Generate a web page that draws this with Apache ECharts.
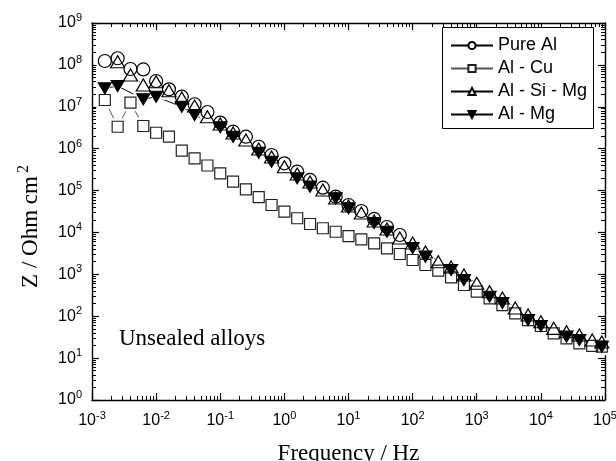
<!DOCTYPE html>
<html><head><meta charset="utf-8">
<script src="https://cdn.jsdelivr.net/npm/echarts@6/dist/echarts.min.js"></script>
<style>html,body{margin:0;padding:0;background:#fff}#c{width:616px;height:461px}</style>
</head><body><div id="c"></div>
<script>
// Frequencies (Hz), 5 points per decade
const freq = [0.001585, 0.002512, 0.003981, 0.00631, 0.01, 0.01585, 0.02512, 0.03981, 0.0631, 0.1,
  0.1585, 0.2512, 0.3981, 0.631, 1, 1.585, 2.512, 3.981, 6.31, 10,
  15.85, 25.12, 39.81, 63.1, 100, 158.5, 251.2, 398.1, 631, 1000,
  1585, 2512, 3981, 6310, 10000, 15850, 25120, 39810, 63100, 89100];

const seriesNames = ['Pure Al', 'Al - Cu', 'Al - Si - Mg', 'Al - Mg'];

const pureAl = [1.24e8, 1.44e8, 7.97e7, 7.8e7, 4.12e7, 2.61e7, 1.74e7, 1.15e7, 7.5e6, 4.2e6,
  2.54e6, 1.93e6, 1.11e6, 7.06e5, 4.47e5, 2.82e5, 1.79e5, 1.17e5, 7.13e4, 4.52e4,
  3.25e4, 2.1e4, 1.35e4, 8.7e3, null, null, null, null, null, null,
  null, null, null, null, null, null, null, null, null, null];

const alCu = [1.45e7, 3.34e6, 1.25e7, 3.48e6, 2.4e6, 1.93e6, 8.94e5, 5.89e5, 3.96e5, 2.58e5,
  1.63e5, 1.07e5, 7.0e4, 4.52e4, 3.13e4, 2.18e4, 1.59e4, 1.26e4, 1.04e4, 8.2e3,
  6.86e3, 5.5e3, 4.18e3, 3.06e3, 2.2e3, 1.67e3, 1.22e3, 849, 556, 385,
  268, 185, 117, 81, 58.4, 39.1, 29.7, 22.6, 19.5, 18.7];

const alSiMg = [null, 1.19e8, 5.73e7, 3.31e7, 3.96e7, 2.42e7, 1.62e7, 1.04e7, 5.8e6, 3.88e6,
  2.37e6, 1.61e6, 9.8e5, 6.32e5, 3.71e5, 2.48e5, 1.6e5, 1.03e5, 6.64e4, 4.28e4,
  2.91e4, 1.88e4, 1.21e4, 7.37e3, 5.6e3, 3.41e3, 2.0e3, 1.5e3, 964, 611,
  385, 272, 157, 107, 74, 51.4, 42.7, 35.6, 27.1, 24.2];

const alMg = [2.76e7, 3.13e7, null, 1.51e7, 1.74e7, null, 1.0e7, 6.36e6, null, 3.24e6,
  1.93e6, null, 8.0e5, 4.88e5, null, 1.96e5, 1.24e5, null, 6.53e4, 3.77e4,
  null, 1.68e4, 1.04e4, null, 4.25e3, 2.64e3, null, 1.27e3, 732, null,
  292, 207, null, 81.2, 58.4, null, 32.5, 27.1, null, 18.7];

const annotation = 'Unsealed alloys';
const xTitle = 'Frequency / Hz';
const yTitle = 'Z / Ohm cm';

const allData = [pureAl, alCu, alSiMg, alMg];
const looks = [
  {symbol: 'circle', size: 13, mask: 19, rotate: 0, stroke: '#000', fill: null, line: '#000'},
  {symbol: 'rect', size: 11, mask: 17, rotate: 0, stroke: '#222', fill: null, line: '#555'},
  {symbol: 'triangle', size: [14, 12], mask: [20, 18], rotate: 0, stroke: '#000', fill: null, line: '#000'},
  {symbol: 'triangle', size: [13, 11], mask: [19, 17], rotate: 180, stroke: '#000', fill: '#000', line: '#000'}
];

const pairs = arr => freq.map((f, i) => arr[i] == null ? null : [f, arr[i]]).filter(Boolean);

const series = [];
// connecting lines (also provide legend icons)
allData.forEach((arr, i) => {
  const lk = looks[i];
  series.push({
    type: 'line', name: seriesNames[i], data: pairs(arr),
    symbol: lk.symbol, symbolSize: lk.size, symbolRotate: lk.rotate, showSymbol: true,
    lineStyle: {color: lk.line, width: 1},
    itemStyle: {color: lk.fill || '#fff', borderColor: lk.stroke, borderWidth: 1},
    z: 2, animation: false, clip: false, emphasis: {disabled: true}
  });
});
// white masks: gaps in lines around markers
allData.forEach((arr, i) => {
  const lk = looks[i];
  series.push({
    type: 'scatter', name: '_k' + i, data: pairs(arr),
    symbol: lk.symbol, symbolSize: lk.mask, symbolRotate: lk.rotate,
    itemStyle: {color: '#fff', borderWidth: 0, opacity: 1},
    z: 3, animation: false, clip: false, emphasis: {disabled: true}, silent: true
  });
});
// markers
allData.forEach((arr, i) => {
  const lk = looks[i];
  series.push({
    type: 'scatter', name: '_m' + i, data: pairs(arr),
    symbol: lk.symbol, symbolSize: lk.size, symbolRotate: lk.rotate,
    itemStyle: {color: lk.fill || 'rgba(0,0,0,0)', borderColor: lk.stroke, borderWidth: 1.2, opacity: 1},
    z: 4 + (i === 3 ? 1 : 0), animation: false, clip: false, emphasis: {disabled: true}
  });
});

const sans = '"Liberation Sans", Arial, sans-serif';
const serif = '"Liberation Serif", "Times New Roman", serif';
const labelRich = {
  a: {fontSize: 16, fontFamily: sans, color: '#000'},
  b: {fontSize: 11, fontFamily: sans, color: '#000', padding: [0, 0, 10, 0]}
};
const fmt = v => '{a|10}{b|' + Math.round(Math.log10(v)) + '}';

function logAxis(pos, min, max, split, showLabel, extra) {
  return Object.assign({
    type: 'log', logBase: 10, position: pos, min: min, max: max, splitNumber: split,
    axisLine: {show: true, onZero: false, lineStyle: {color: '#000', width: 1.4}},
    axisTick: {show: true, inside: true, length: 7, lineStyle: {color: '#000', width: 1.2}},
    minorTick: {show: true, splitNumber: 9, length: 4, lineStyle: {color: '#000', width: 1}},
    splitLine: {show: false}, minorSplitLine: {show: false},
    axisLabel: {show: showLabel, formatter: fmt, rich: labelRich}
  }, extra || {});
}

const chart = echarts.init(document.getElementById('c'), null, {renderer: 'canvas'});
chart.setOption({
  backgroundColor: '#fff',
  animation: false,
  grid: {left: 92, right: 11, top: 23, bottom: 61, containLabel: false, outerBoundsMode: 'none'},
  xAxis: [
    logAxis('bottom', 0.001, 100000, 8, true, {
      name: xTitle, nameLocation: 'middle', nameGap: 42,
      nameTextStyle: {fontFamily: serif, fontSize: 23, color: '#000'},
      axisLabel: {show: true, formatter: fmt, rich: labelRich, margin: 10}
    }),
    logAxis('top', 0.001, 100000, 8, false)
  ],
  yAxis: [
    logAxis('left', 1, 1e9, 9, true, {
      name: '{t|' + yTitle + '}{s|2}', nameLocation: 'middle', nameGap: 46,
      nameTextStyle: {
        rich: {
          t: {fontFamily: serif, fontSize: 23, color: '#000', padding: [0, 0, 0, 0]},
          s: {fontFamily: serif, fontSize: 16, color: '#000', padding: [0, 30, 14, 3]}
        }
      },
      axisLabel: {show: true, formatter: fmt, rich: labelRich, margin: 10}
    }),
    logAxis('right', 1, 1e9, 9, false)
  ],
  legend: {
    data: seriesNames, orient: 'vertical', left: 442, top: 27,
    itemWidth: 42, itemHeight: 9, itemGap: 0, itemTextGap: 6,
    padding: [7, 6, 2, 8],
    borderWidth: 0, backgroundColor: 'rgba(0,0,0,0)',
    textStyle: {fontFamily: sans, fontSize: 18, color: '#000', lineHeight: 23},
    selectedMode: false, z: 10
  },
  graphic: [
    {type: 'rect', left: 442, top: 27, z: 9,
     shape: {width: 151, height: 101},
     style: {fill: '#fff', stroke: '#000', lineWidth: 1}},
    {type: 'text', left: 119, top: 327,
     style: {text: annotation, font: '23px ' + serif, fill: '#000'}}
  ],
  series: series
});
</script></body></html>
